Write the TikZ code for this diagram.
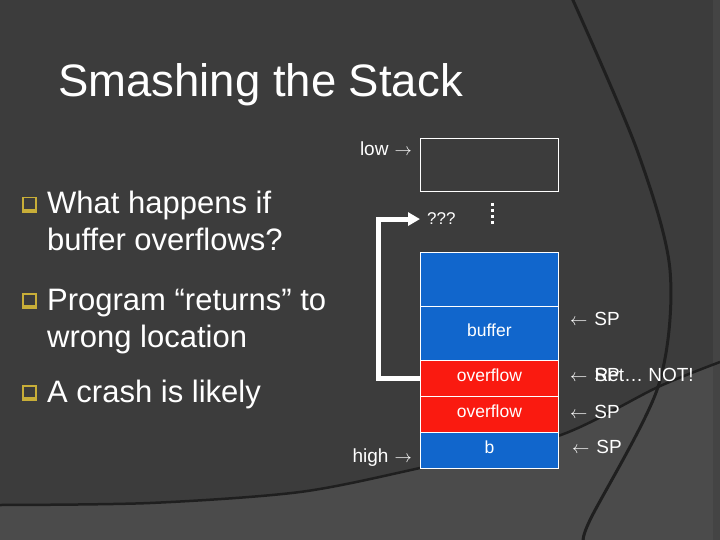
\documentclass[tikz,border=0pt]{standalone}
\usepackage{fontspec}
\setmainfont{Liberation Sans}
\usetikzlibrary{arrows.meta}

\definecolor{slidebg}{HTML}{3C3C3C}
\definecolor{slidelight}{HTML}{4B4B4B}
\definecolor{slideedge}{HTML}{444444}
\definecolor{arcline}{HTML}{1F1F1F}
\definecolor{cellblue}{HTML}{1166CC}
\definecolor{cellred}{HTML}{FA1A10}
\definecolor{bulletgold}{HTML}{C8AE38}

\begin{document}
\begin{tikzpicture}[x=1pt, y=-1pt, every node/.style={text=white, inner sep=0pt},
	cell/.style={draw=white, line width=0.8pt, minimum width=138pt, anchor=north west, text depth=7pt, font=\fontsize{17.5}{20}\selectfont},
	bullet/.style={anchor=base west, font=\fontsize{31}{36}\selectfont},
	side/.style={anchor=base west, font=\fontsize{19}{22}\selectfont},
	>={Triangle[length=12pt, width=13pt]}]
	\useasboundingbox (0,0) rectangle (720,540);
	% slide background
	\fill[slidebg] (0,0) rectangle (720,540);
	\fill[slidelight] plot[smooth] coordinates {(0,505) (150,503) (300,492) (420,468) (558,436) (658,387) (720,362)} -- (720,540) -- (0,540) -- cycle;
	\fill[slideedge] (713,0) rectangle (720,540);
	\draw[arcline, line width=2.5pt] plot[smooth] coordinates {(0,505) (150,503) (300,492) (420,468) (558,436) (658,387) (720,362)};
	\draw[arcline, line width=3pt] plot[smooth] coordinates {(572,-2) (637,150) (670,270) (658,387) (590,520) (584,542)};

	\node[anchor=base west, font=\fontsize{45.5}{50}\selectfont] (title) at (58,97) {Smashing the Stack};

	% bullets
	\foreach \y in {214,310,402} {
		\fill[bulletgold] (22,\y-17) rectangle (37,\y-1);
		\fill[slidebg] (23.5,\y-15.5) rectangle (34.5,\y-5);
	}
	\node[bullet] (what) at (47,214) {What happens if};
	\node[bullet] (what2) at (47,251) {buffer overflows?};
	\node[bullet] (prog) at (47,310) {Program “returns” to};
	\node[bullet] (prog2) at (47,347) {wrong location};
	\node[bullet] (crash) at (47,402) {A crash is likely};

	% stack
	\node[cell, minimum height=53pt] (lowcell) at (420,138) {};
	\node[cell, fill=cellblue, minimum height=54pt] (frame) at (420,252) {};
	\node[cell, fill=cellblue, minimum height=54pt] (buf) at (420,306) {buffer};
	\node[cell, fill=cellred, minimum height=36pt] (ovf1) at (420,360) {overflow};
	\node[cell, fill=cellred, minimum height=36pt] (ovf2) at (420,396) {overflow};
	\node[cell, fill=cellblue, minimum height=36pt] (bvar) at (420,432) {b};

	\node[anchor=base east, font=\fontsize{19}{20}\selectfont] (low) at (412,156) {low\hspace{6pt}$\rightarrow$};
	\node[anchor=base east, font=\fontsize{19}{20}\selectfont] (high) at (412,462) {high\hspace{6pt}$\rightarrow$};
	\node[anchor=base west, font=\fontsize{17}{20}\selectfont] (qqq) at (427,225) {???};
	\draw[white, line width=3pt, dash pattern=on 3pt off 3pt] (492,203) -- (492,225);

	\node[side] (sp1) at (570,325) {$\leftarrow$\hspace{7pt}SP};
	\node[side] (sp2) at (570,381) {$\leftarrow$\hspace{7pt}\rlap{SP}Ret… NOT!};
	\node[side] (sp3) at (570,418) {$\leftarrow$\hspace{7pt}SP};
	\node[side] (sp4) at (572,453) {$\leftarrow$\hspace{7pt}SP};

	\draw[white, line width=5pt, ->, shorten >=7pt] (ovf1.west) -- ++(-42,0) |- (qqq.west);
\end{tikzpicture}
\end{document}
